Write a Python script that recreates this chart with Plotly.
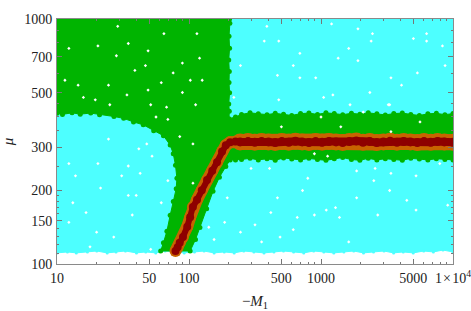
import plotly.graph_objects as go

# Region outlines (x = -M1, y = mu)
bump_x = [250,290,335,390,450,520,600,700,810,940,1090,1260,1460,1700,1970,2280,2650,3070,3560,4130,4790,5560,6450,7480,8680,10000]
upper_y = [408,414,410,407,412,409,404,411,413,408,414,411,407,412,409,414,410,406,411,413,408,404,410,412,407,411]
lower_y = [267,270,266,269,265,271,268,266,270,267,265,269,272,267,265,270,266,269,267,265,270,268,266,269,267,266]

bottom_x = [10,12,14,17,20,24,28,33,40,47,56,66,78,92,110,130,155,185,220,260,310,370,440,520,620,740,880,1050,1250,1490,1770,2100,2500,3000,3550,4200,5000,6000,7100,8400,10000]
bottom_y = [111,112,111,112,113,111,112,113,111,112,111,113,112,111,112,113,111,112,111,113,112,111,112,113,112,111,113,112,111,112,113,111,112,113,111,112,111,113,112,114,112]

green_left_x = [10,11,13,15,18,21,27,32,38,45,54,64,72,76,79,81,80,76,72,68,64,61]
green_left_y = [412,408,414,409,413,407,400,393,380,370,350,334,306,282,253,224,203,180,158,136,122,113]
green_right_x = [102,112,121,136,152,170,190,205,225]
green_right_y = [113,126,141,168,198,226,250,266,266]
green_top_x = [10,14,19,26,36,50,70,96,130,170,203]
green_top_y = [1000,1000,1000,1000,1000,1000,1000,1000,1000,1000,1000]
green_edge_x = [204,201,203,200,202,201,203,200,202,201,225]
green_edge_y = [960,850,760,680,610,550,500,450,420,392,398]

curve_x = [79,82,85,90,97,102,107,115,125,137,150,163,178,190,205,225,244]
curve_y = [113,117,122,129,142,155,171,183,200,220,240,260,288,305,314,316,315]
flat_x = [244,280,315,355,400,450,505,570,640,720,810,910,1020,1150,1300,1460,1640,1850,2080,2340,2640,2970,3340,3760,4230,4760,5360,6030,6790,7640,8600,10000]
flat_y = [315,316,314,316,315,313,316,314,317,315,313,316,314,316,315,313,316,318,314,316,313,315,317,314,316,315,313,316,314,316,315,314]

# White gaps in the scan, as decades of x and y
speck_log_x = [1.53,1.46,1.54,1.81,2.06,1.95,1.83,1.71,1.69,1.40,1.20,1.29,1.09,1.31,1.95,1.67,1.59,1.79,2.01,2.10,2.08,1.88,1.39,1.16,1.06,1.45,1.69,2.05,1.93,2.03,1.84,1.75,1.62,1.39,1.68,
 1.33,1.54,1.63,1.49,1.14,1.09,1.31,1.72,1.84,2.03,1.60,1.54,1.79,1.12,1.22,1.57,1.09,1.30,1.43,1.71,1.25,2.29,2.15,2.27,2.19,
 2.70,3.15,3.75,3.53,3.32,3.00,3.22,3.52,2.95,3.05,2.47,2.61,3.41,3.53,3.27,3.72,3.40,3.52,3.65,3.27,2.86,2.67,2.90,2.95,3.14,3.11,3.04,2.82,2.62,2.50,2.79,3.21,2.69,2.55,2.39,3.43,3.72,3.96,3.90,
 2.57,2.68,3.08,3.39,3.38,3.70,3.80,3.80,2.84,3.21,3.28,2.39,2.67,2.79,2.84,2.96,3.13,3.94,3.53,3.73,3.61,3.37,3.09,2.34,2.68,3.02,3.51,3.92,2.59,3.28]
speck_log_y = [2.69,2.97,2.90,2.94,2.94,2.70,2.64,2.65,2.71,2.65,2.68,2.67,2.88,2.89,2.82,2.81,2.79,2.74,2.75,2.75,2.84,2.78,2.73,2.73,2.75,2.85,2.87,2.65,2.52,2.49,2.59,2.60,2.47,2.51,2.49,
 2.31,2.40,2.37,2.36,2.36,2.41,2.41,2.44,2.34,2.33,2.28,2.28,2.25,2.25,2.21,2.20,2.17,2.13,2.11,2.06,2.07,2.27,2.15,2.17,2.10,
 2.56,2.56,2.58,2.54,2.62,2.60,2.65,2.65,2.45,2.44,2.39,2.39,2.39,2.37,2.38,2.36,2.34,2.30,2.26,2.27,2.30,2.27,2.35,2.20,2.19,2.23,2.22,2.19,2.21,2.16,2.14,2.09,2.11,2.09,2.13,2.20,2.22,2.24,2.41,
 2.91,2.91,2.98,2.94,2.91,2.92,2.94,2.91,2.86,2.88,2.83,2.81,2.77,2.81,2.76,2.76,2.84,2.81,2.76,2.78,2.73,2.70,2.69,2.68,2.67,2.68,2.65,2.89,2.97,2.96]

x_ticks = [10,50,100,500,1000,5000,10000]
x_labels = ["10","50","100","500","1000","5000","1\u200a×\u200a10<sup>4</sup>"]
x_minor = [20,30,40,60,70,80,90,200,300,400,600,700,800,900,2000,3000,4000,6000,7000,8000,9000]
y_ticks = [100,150,200,300,500,700,1000]
y_labels = ["100","150","200","300","500","700","1000"]
y_minor = [110,120,130,140,160,170,180,190,250,350,400,450,600,800,900]

CYAN, GREEN, ORANGE, RED = "#4DFFFF", "#00B400", "#C86400", "#8E0000"

fig = go.Figure()

cyan_x = [10, 10000] + bottom_x[::-1]
cyan_y = [1000, 1000] + bottom_y[::-1]
fig.add_trace(go.Scatter(x=cyan_x, y=cyan_y, mode="lines+markers", fill="toself", fillcolor=CYAN,
                         line=dict(color=CYAN, width=1), marker=dict(color=CYAN, size=3)))

green_x = green_top_x + green_edge_x + bump_x + bump_x[::-1] + green_right_x[::-1] + green_left_x[::-1]
green_y = green_top_y + green_edge_y + upper_y + lower_y[::-1] + green_right_y[::-1] + green_left_y[::-1]
fig.add_trace(go.Scatter(x=green_x, y=green_y, mode="lines+markers", fill="toself", fillcolor=GREEN,
                         line=dict(color=GREEN, width=1), marker=dict(color=GREEN, size=5)))

fig.add_trace(go.Scatter(x=curve_x, y=curve_y, mode="lines+markers",
                         line=dict(color=ORANGE, width=12), marker=dict(color=ORANGE, size=12)))
fig.add_trace(go.Scatter(x=flat_x, y=flat_y, mode="lines+markers",
                         line=dict(color=ORANGE, width=16), marker=dict(color=ORANGE, size=17)))
fig.add_trace(go.Scatter(x=curve_x, y=curve_y, mode="lines+markers",
                         line=dict(color=RED, width=6), marker=dict(color=RED, size=8)))
fig.add_trace(go.Scatter(x=flat_x, y=flat_y, mode="lines+markers",
                         line=dict(color=RED, width=8), marker=dict(color=RED, size=9)))

fig.add_trace(go.Scatter(x=[10**v for v in speck_log_x], y=[10**v for v in speck_log_y], mode="markers",
                         marker=dict(color="white", size=2.5, symbol="diamond")))

axis_common = dict(type="log", showgrid=False, zeroline=False, showline=True, linecolor="#8a8a8a",
                   linewidth=1, mirror="ticks", ticks="inside", tickcolor="#777777", ticklen=5, tickwidth=1,
                   tickfont=dict(family="Liberation Serif", size=14, color="#222222"))
title_font = dict(family="Liberation Serif", size=15, color="#222222")
fig.update_xaxes(range=[1, 4], tickmode="array", tickvals=x_ticks, ticktext=x_labels, ticklabelstandoff=1,
                 ticklabeloverflow="allow",
                 minor=dict(tickmode="array", tickvals=x_minor, ticks="inside", ticklen=2, tickcolor="#777777"),
                 title=dict(text="−<i>M</i><sub>1</sub>", font=title_font, standoff=18),
                 **axis_common)
fig.update_yaxes(range=[2, 3], tickmode="array", tickvals=y_ticks, ticktext=y_labels, ticklabelstandoff=1,
                 ticklabeloverflow="allow",
                 minor=dict(tickmode="array", tickvals=y_minor, ticks="inside", ticklen=2, tickcolor="#777777"),
                 title=dict(text="<i>μ</i>", font=title_font, standoff=14),
                 **axis_common)
fig.update_layout(width=471, height=311, autosize=False, showlegend=False,
                  margin=dict(l=57, r=18, t=19, b=47, autoexpand=False),
                  paper_bgcolor="white", plot_bgcolor="white")
fig.write_html("out.html", config={"displayModeBar": False},
               post_script="document.body.style.margin='0';")
